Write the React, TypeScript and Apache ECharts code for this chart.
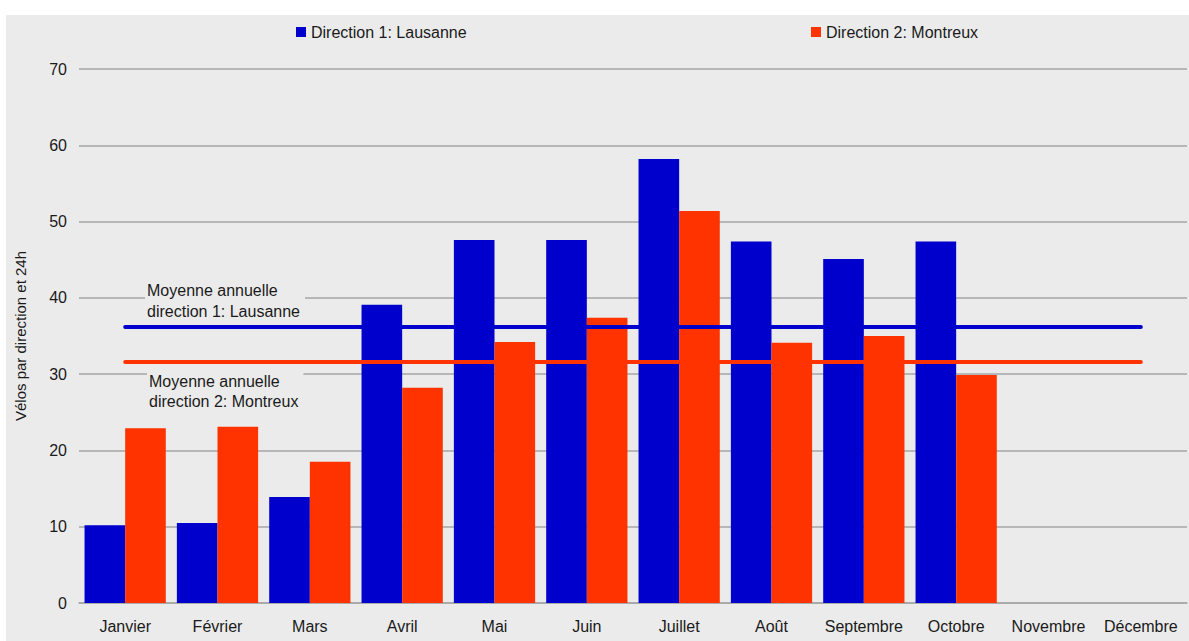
import React, { useEffect, useRef } from "react";
import * as echarts from "echarts";

const months = ["Janvier", "Février", "Mars", "Avril", "Mai", "Juin", "Juillet", "Août", "Septembre", "Octobre", "Novembre", "Décembre"];
const lausanne = [10.2, 10.5, 13.9, 39.1, 47.6, 47.6, 58.2, 47.4, 45.1, 47.4, null, null];
const montreux = [22.9, 23.1, 18.5, 28.2, 34.2, 37.4, 51.4, 34.1, 35.0, 29.9, null, null];
const avgLausanne = 36.2;
const avgMontreux = 31.6;
const seriesNames = ["Direction 1: Lausanne", "Direction 2: Montreux"];
const yTicks = { min: 0, max: 70, interval: 10 };

const BLUE = "#0000cc";
const RED = "#ff3300";
const BG = "#ebebeb";
const FONT = "Liberation Sans, Arial, sans-serif";
const TXT = "#1a1a1a";

export default function App() {
  const ref = useRef<HTMLDivElement>(null);
  useEffect(() => {
    if (!ref.current) return;
    const chart = echarts.init(ref.current, null, { renderer: "svg" });
    const avgLine = (name: string, value: number, color: string) => ({
      name,
      type: "line",
      data: [],
      silent: true,
      markLine: {
        silent: true, symbol: "none", label: { show: false }, z: 5,
        lineStyle: { color, width: 4, type: "solid", cap: "round" },
        data: [[{ coord: [months[0], value] }, { coord: [months[months.length - 1], value] }]],
      },
    });
    chart.setOption({
      animation: false,
      backgroundColor: "#ffffff",
      textStyle: { fontFamily: FONT },
      graphic: [
        { type: "rect", z: -10, silent: true, shape: { x: 6, y: 15, width: 1189, height: 640 }, style: { fill: BG } },
        {
          type: "text", z: 10, left: 145, top: 280,
          style: { text: "Moyenne annuelle\ndirection 1: Lausanne", fontSize: 16, fontFamily: FONT, fill: TXT, lineHeight: 21, backgroundColor: BG, padding: [0, 5, 0, 2] },
        },
        {
          type: "text", z: 10, left: 147, top: 371,
          style: { text: "Moyenne annuelle\ndirection 2: Montreux", fontSize: 16, fontFamily: FONT, fill: TXT, lineHeight: 20, backgroundColor: BG, padding: [0, 5, 0, 2] },
        },
      ],
      legend: [
        { data: [seriesNames[0]], left: 291, top: 19, itemWidth: 10, itemHeight: 10, icon: "rect", textStyle: { fontSize: 16, color: TXT, fontFamily: FONT } },
        { data: [seriesNames[1]], left: 806, top: 19, itemWidth: 10, itemHeight: 10, icon: "rect", textStyle: { fontSize: 16, color: TXT, fontFamily: FONT } },
      ],
      grid: { left: 79, right: 2, top: 69, bottom: 38, containLabel: false },
      xAxis: {
        type: "category",
        data: months,
        axisLine: { lineStyle: { color: "#a6a6a6", width: 1.5 } },
        axisTick: { show: false },
        axisLabel: { color: TXT, fontSize: 16, margin: 15, fontFamily: FONT, interval: 0 },
      },
      yAxis: {
        type: "value",
        min: yTicks.min,
        max: yTicks.max,
        interval: yTicks.interval,
        name: "Vélos par direction et 24h",
        nameLocation: "middle",
        nameGap: 51,
        nameTextStyle: { fontSize: 15, color: TXT, fontFamily: FONT },
        axisLine: { show: false },
        axisTick: { show: false },
        axisLabel: { color: TXT, fontSize: 16, margin: 12, fontFamily: FONT },
        splitLine: { lineStyle: { color: "#a6a6a6", width: 1.5 } },
      },
      series: [
        { name: seriesNames[0], type: "bar", data: lausanne, barGap: "0%", barCategoryGap: "12%", itemStyle: { color: BLUE } },
        { name: seriesNames[1], type: "bar", data: montreux, barGap: "0%", barCategoryGap: "12%", itemStyle: { color: RED } },
        avgLine("avg1", avgLausanne, BLUE),
        avgLine("avg2", avgMontreux, RED),
      ],
    });
    return () => chart.dispose();
  }, []);
  return <div ref={ref} style={{ position: "absolute", left: 0, top: 0, width: 1189, height: 641 }} />;
}
